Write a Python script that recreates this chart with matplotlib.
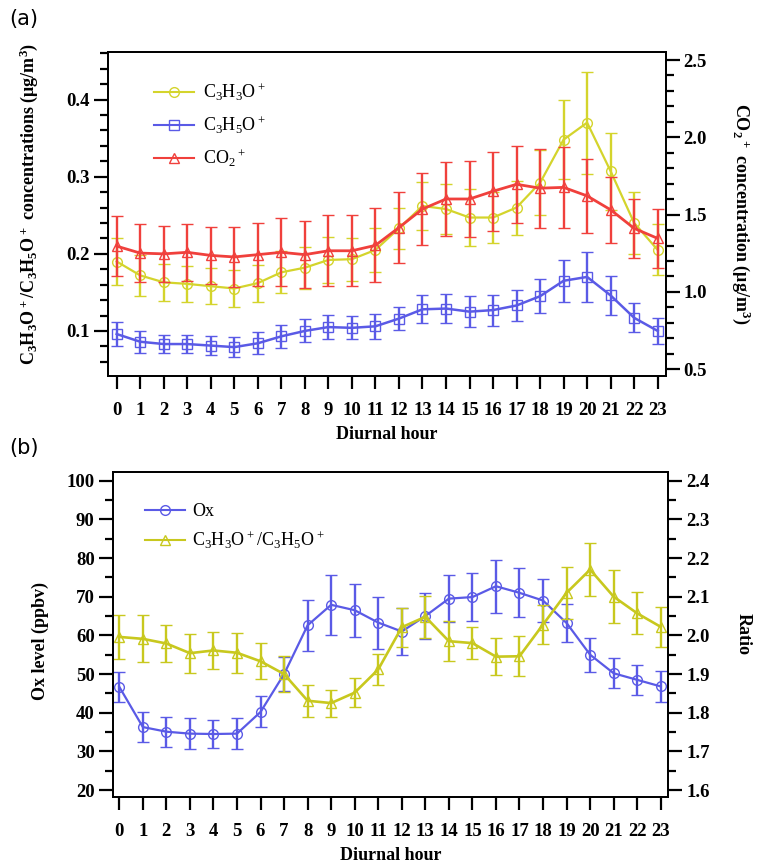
import numpy as np
import matplotlib
matplotlib.use('Agg')
import matplotlib.pyplot as plt
from matplotlib.lines import Line2D
from matplotlib.ticker import MultipleLocator

plt.rcParams['font.family'] = ['Liberation Serif', 'DejaVu Serif']
plt.rcParams['font.weight'] = 'bold'
plt.rcParams['axes.labelweight'] = 'bold'
plt.rcParams['mathtext.fontset'] = 'custom'
plt.rcParams['mathtext.rm'] = 'Liberation Serif'
plt.rcParams['mathtext.bf'] = 'Liberation Serif:bold'
plt.rcParams['mathtext.default'] = 'regular'

hours = np.arange(24)

# (a) C3H3O+ and C3H5O+ (left axis, ug/m3), CO2+ (right axis, ug/m3)
c3h3o = [0.190, 0.172, 0.163, 0.161, 0.158, 0.155, 0.162, 0.176, 0.182, 0.192, 0.193, 0.205,
         0.233, 0.262, 0.258, 0.247, 0.247, 0.260, 0.292, 0.348, 0.370, 0.307, 0.240, 0.205]
c3h3o_err = [0.031, 0.027, 0.024, 0.023, 0.023, 0.024, 0.024, 0.027, 0.027, 0.030, 0.028, 0.028,
             0.027, 0.031, 0.032, 0.037, 0.033, 0.035, 0.042, 0.051, 0.066, 0.050, 0.040, 0.033]
c3h5o = [0.096, 0.086, 0.083, 0.083, 0.081, 0.079, 0.084, 0.093, 0.100, 0.105, 0.104, 0.106,
         0.116, 0.128, 0.129, 0.125, 0.127, 0.133, 0.145, 0.165, 0.170, 0.146, 0.117, 0.100]
c3h5o_err = [0.016, 0.014, 0.012, 0.012, 0.012, 0.013, 0.014, 0.015, 0.015, 0.016, 0.015, 0.016,
             0.015, 0.018, 0.019, 0.020, 0.020, 0.020, 0.022, 0.027, 0.032, 0.025, 0.019, 0.017]
co2 = [1.296, 1.251, 1.246, 1.256, 1.236, 1.226, 1.241, 1.256, 1.241, 1.266, 1.266, 1.301,
       1.416, 1.536, 1.601, 1.601, 1.651, 1.696, 1.671, 1.676, 1.621, 1.531, 1.411, 1.346]
co2_err = [0.195, 0.185, 0.180, 0.185, 0.185, 0.195, 0.205, 0.220, 0.215, 0.230, 0.230, 0.240,
           0.230, 0.230, 0.240, 0.245, 0.255, 0.250, 0.255, 0.260, 0.240, 0.215, 0.190, 0.190]

# (b) Ox (left axis, ppbv) and C3H3O+/C3H5O+ ratio (right axis)
ox = [46.7, 36.3, 35.1, 34.6, 34.5, 34.6, 40.2, 50.0, 62.6, 67.9, 66.5, 63.3,
      61.0, 65.0, 69.5, 69.9, 72.7, 71.0, 69.0, 63.2, 55.0, 50.2, 48.5, 46.8]
ox_err = [3.8, 3.8, 3.9, 4.1, 3.7, 4.0, 4.0, 4.5, 6.6, 7.7, 6.9, 6.7,
          6.0, 6.0, 6.0, 6.3, 6.9, 6.3, 5.5, 4.8, 4.4, 3.9, 3.9, 4.0]
ratio = [1.996, 1.991, 1.979, 1.954, 1.961, 1.955, 1.933, 1.900, 1.831, 1.825, 1.852, 1.912,
         2.021, 2.048, 1.985, 1.980, 1.945, 1.946, 2.028, 2.110, 2.170, 2.100, 2.057, 2.022]
ratio_err = [0.056, 0.061, 0.049, 0.050, 0.047, 0.051, 0.047, 0.046, 0.041, 0.035, 0.037, 0.040,
             0.050, 0.055, 0.052, 0.042, 0.047, 0.052, 0.050, 0.068, 0.068, 0.068, 0.054, 0.052]

yellow_a = '#d4d42c'
yellow_b = '#c8c81e'
blue = '#5a5ae6'
red = '#f0403c'

lab_a_left = 'C$_3$H$_3$O$^+$/C$_3$H$_5$O$^+$ concentrations (μg/m$^3$)'
lab_a_right = 'CO$_2$$^+$ concentration (μg/m$^3$)'
leg_a = ['C$_3$H$_3$O$^+$', 'C$_3$H$_5$O$^+$', 'CO$_2$$^+$']
leg_b = ['Ox', 'C$_3$H$_3$O$^+$/C$_3$H$_5$O$^+$']

fig = plt.figure(figsize=(7.62, 8.67), dpi=100)


def draw(ax, y, err, color, marker, lw=1.5):
    ax.errorbar(hours, y, yerr=err, color=color, lw=lw, marker=marker, ms=7,
                mfc='none', mec=color, mew=1.0, elinewidth=1.7, capsize=4, capthick=1.7)


def style(ax, ax2, xlim):
    ax.set_xlim(*xlim)
    ax.set_xticks(hours)
    ax.tick_params(axis='x', direction='out', length=9, width=1.6, pad=10, labelsize=13.5)
    for a in (ax, ax2):
        a.tick_params(axis='y', which='major', direction='out', length=10, width=1.6,
                      pad=3, labelsize=13.5)
        a.tick_params(axis='y', which='minor', direction='out', length=5.5, width=1.6)
        for s in a.spines.values():
            s.set_linewidth(1.3)


leg_font = {'family': 'Liberation Serif', 'weight': 'normal', 'size': 13}

# ---- panel (a)
ax = fig.add_axes([0.1417, 0.5667, 0.7319, 0.3737])
ax2 = ax.twinx()
draw(ax, c3h3o, c3h3o_err, yellow_a, 'o', lw=1.6)
draw(ax, c3h5o, c3h5o_err, blue, 's', lw=1.8)
draw(ax2, co2, co2_err, red, '^', lw=2.0)
ax.set_ylim(0.042, 0.462)
ax2.set_ylim(0.458, 2.554)
ax.yaxis.set_major_locator(MultipleLocator(0.1))
ax.yaxis.set_minor_locator(MultipleLocator(0.02))
ax2.yaxis.set_major_locator(MultipleLocator(0.5))
ax2.yaxis.set_minor_locator(MultipleLocator(0.1))
ax.yaxis.set_major_formatter(plt.FormatStrFormatter('%.1f'))
ax2.yaxis.set_major_formatter(plt.FormatStrFormatter('%.1f'))
style(ax, ax2, (-0.37, 23.34))
ax.set_xlabel('Diurnal hour', fontsize=13, labelpad=5)
ax.set_ylabel(lab_a_left, fontsize=13)
ax.yaxis.set_label_coords(-0.122, 0.53)
ax2.set_ylabel(lab_a_right, fontsize=13, rotation=270)
ax2.yaxis.set_label_coords(1.155, 0.5)
handles = [Line2D([], [], color=c, marker=m, ms=7, mfc='none', lw=1.5)
           for c, m in [(yellow_a, 'o'), (blue, 's'), (red, '^')]]
ax.legend(handles, leg_a, loc='upper left', bbox_to_anchor=(0.07, 0.93), frameon=False,
          prop=leg_font, handlelength=2.2, handletextpad=0.5, labelspacing=0.65,
          borderaxespad=0)
fig.text(0.012, 0.978, '(a)', fontsize=15, fontweight='normal', family='DejaVu Sans',
         va='center', ha='left')

# ---- panel (b)
bx = fig.add_axes([0.1479, 0.0811, 0.7291, 0.3748])
bx2 = bx.twinx()
draw(bx, ox, ox_err, blue, 'o', lw=1.6)
draw(bx2, ratio, ratio_err, yellow_b, '^', lw=1.9)
bx.set_ylim(18.3, 102.3)
bx2.set_ylim(1.583, 2.423)
bx.yaxis.set_major_locator(MultipleLocator(10))
bx.yaxis.set_minor_locator(MultipleLocator(5))
bx2.yaxis.set_major_locator(MultipleLocator(0.1))
bx2.yaxis.set_minor_locator(MultipleLocator(0.05))
bx2.yaxis.set_major_formatter(plt.FormatStrFormatter('%.1f'))
style(bx, bx2, (-0.28, 23.32))
bx.set_xlabel('Diurnal hour', fontsize=13, labelpad=5)
bx.set_ylabel('Ox level (ppbv)', fontsize=13)
bx.yaxis.set_label_coords(-0.115, 0.48)
bx2.set_ylabel('Ratio', fontsize=13, rotation=270)
bx2.yaxis.set_label_coords(1.15, 0.5)
handles = [Line2D([], [], color=c, marker=m, ms=7, mfc='none', lw=1.5)
           for c, m in [(blue, 'o'), (yellow_b, '^')]]
bx.legend(handles, leg_b, loc='upper left', bbox_to_anchor=(0.045, 0.925), frameon=False,
          prop=leg_font, handlelength=2.2, handletextpad=0.4, labelspacing=0.5,
          borderaxespad=0)
fig.text(0.012, 0.483, '(b)', fontsize=15, fontweight='normal', family='DejaVu Sans',
         va='center', ha='left')

fig.savefig('out.png', dpi=100)
